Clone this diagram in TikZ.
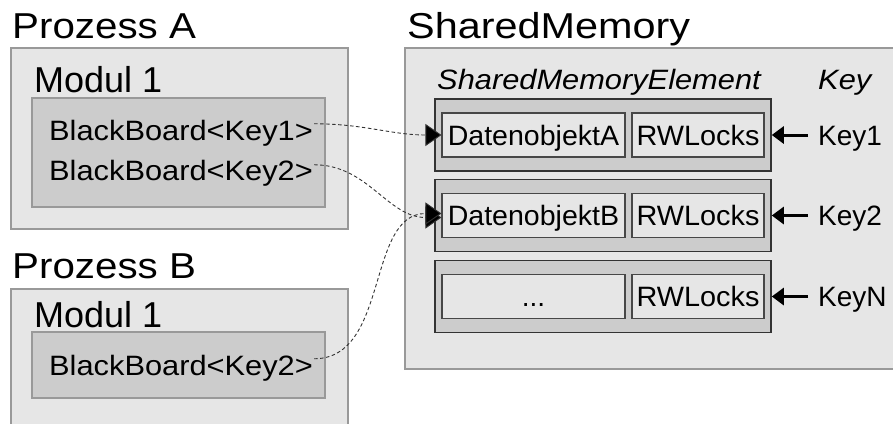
\documentclass[tikz,border=0pt]{standalone}
\usepackage{fontspec}
\setmainfont{Liberation Sans}
\usetikzlibrary{arrows.meta}
\definecolor{paleGray}{HTML}{E6E6E6}
\definecolor{midGray}{HTML}{CCCCCC}
\definecolor{rimGray}{HTML}{999999}
\definecolor{darkRim}{HTML}{333333}
\newcommand{\wide}[2]{\scalebox{#1}[1]{#2}}
\tikzset{
  outerbox/.style={draw=rimGray, fill=paleGray, line width=1.2pt, inner sep=0pt},
  modbox/.style={draw=rimGray, fill=midGray, line width=1.2pt, inner sep=0pt},
  elembox/.style={draw=darkRim, fill=midGray, line width=1.6pt, inner sep=0pt, minimum width=336pt, minimum height=72pt},
  cellbox/.style={draw=darkRim!90, fill=paleGray, line width=1.1pt, inner sep=0pt, minimum height=44pt,
    text height=26pt, text depth=6pt, font=\fontsize{28}{32}\selectfont},
  title/.style={anchor=base west, inner sep=0pt, font=\fontsize{36}{40}\selectfont},
  biglabel/.style={anchor=base west, inner sep=0pt, font=\fontsize{28}{32}\selectfont},
  link/.style={dash pattern=on 3.5pt off 2.5pt, line width=0.9pt, draw=black!80,
    -{Triangle[length=16pt, width=22pt, fill=black]}},
  keyarrow/.style={line width=3pt, -{Triangle[length=12pt, width=17pt]}}
}
\begin{document}
\begin{tikzpicture}[x=1pt, y=-1pt]
\useasboundingbox (0,0) rectangle (893,423);

% Prozess A
\node[title] (tA) at (12,38) {\wide{1.12}{Prozess A}};
\node[outerbox, minimum width=337pt, minimum height=181pt] (pA) at (179.5,138.5) {};
\node[title] (mA) at (34,92) {Modul 1};
\node[modbox, minimum width=293pt, minimum height=109pt] (bA) at (178.5,152.5) {};
\node[biglabel] (bbA1) at (49,140) {\wide{1.1}{BlackBoard<Key1>}};
\node[biglabel] (bbA2) at (49,180) {\wide{1.1}{BlackBoard<Key2>}};

% Prozess B
\node[title] (tB) at (12,278) {\wide{1.12}{Prozess B}};
\node[outerbox, minimum width=337pt, minimum height=150pt] (pB) at (179.5,364) {};
\node[title] (mB) at (34,327) {Modul 1};
\node[modbox, minimum width=293pt, minimum height=66pt] (bB) at (178.5,365) {};
\node[biglabel] (bbB) at (49,375) {\wide{1.1}{BlackBoard<Key2>}};

% Shared memory
\node[title] (tS) at (407,38) {\wide{1.15}{SharedMemory}};
\node[outerbox, minimum width=500pt, minimum height=321pt] (shm) at (655,208.5) {};
\node[biglabel, font=\fontsize{28}{32}\selectfont\itshape] (sme) at (437,89) {\wide{1.1}{SharedMemoryElement}};
\node[biglabel, font=\fontsize{28}{32}\selectfont\itshape] (kh) at (818,89) {\wide{1.1}{Key}};

\node[elembox] (e1) at (603,135) {};
\node[elembox] (e2) at (603,215.5) {};
\node[elembox] (e3) at (603,296.5) {};

\node[cellbox, minimum width=183pt] (d1) at (533.5,135) {\wide{1.02}{DatenobjektA}};
\node[cellbox, minimum width=132pt] (l1) at (698,135) {\wide{1.03}{RWLocks}};
\node[cellbox, minimum width=183pt] (d2) at (533.5,215.5) {\wide{1.02}{DatenobjektB}};
\node[cellbox, minimum width=132pt] (l2) at (698,215.5) {\wide{1.03}{RWLocks}};
\node[cellbox, minimum width=183pt] (d3) at (533.5,296.5) {...};
\node[cellbox, minimum width=132pt] (l3) at (698,296.5) {\wide{1.03}{RWLocks}};

\node[biglabel] (k1) at (818,145) {Key1};
\node[biglabel] (k2) at (818,225) {Key2};
\node[biglabel] (kN) at (818,306) {KeyN};

% key lookups
\draw[keyarrow] (k1.west |- e1.east) ++(-10,0) coordinate (k1s) -- (e1.east);
\draw[keyarrow] (k2.west |- e2.east) ++(-10,0) coordinate (k2s) -- (e2.east);
\draw[keyarrow] (kN.west |- e3.east) ++(-10,0) coordinate (kNs) -- (e3.east);

% blackboard references
\draw[link] (bbA1.east) ++(1,-9) to[out=0, in=180] (d1.west);
\draw[link] (bbA2.east) ++(1,-8) to[out=0, in=180] ([yshift=-2pt]d2.west);
\draw[link] (bbB.east) ++(1,-9) to[out=0, in=180] ([yshift=2pt]d2.west);
\end{tikzpicture}
\end{document}
